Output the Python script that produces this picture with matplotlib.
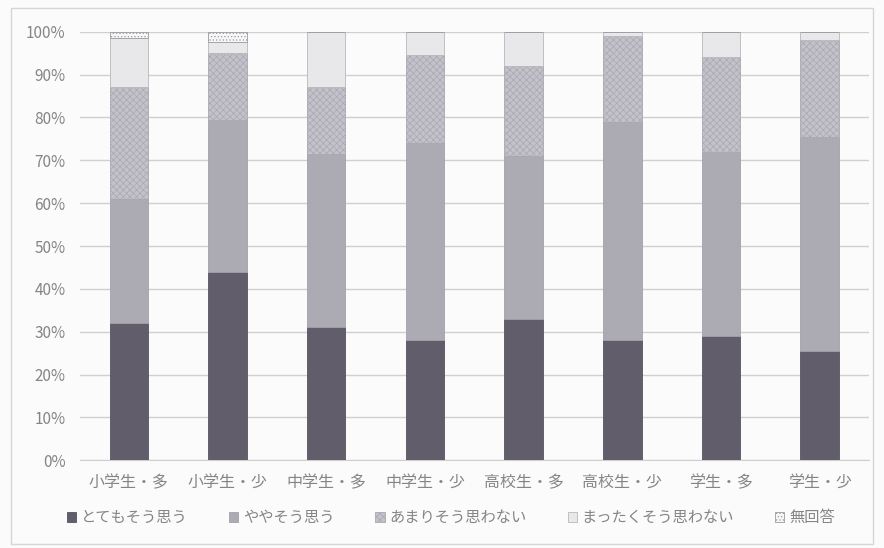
import matplotlib
matplotlib.use("Agg")
import matplotlib.pyplot as plt
import numpy as np
from matplotlib.patches import Rectangle

plt.rcParams['font.family'] = ['Noto Sans CJK JP', 'DejaVu Sans']
plt.rcParams['hatch.linewidth'] = 0.5

categories = ['小学生・多', '小学生・少', '中学生・多', '中学生・少',
              '高校生・多', '高校生・少', '学生・多', '学生・少']
series_names = ['とてもそう思う', 'ややそう思う', 'あまりそう思わない',
                'まったくそう思わない', '無回答']

very_much = [32, 44, 31, 28, 33, 28, 29, 25.5]
somewhat = [29, 35.5, 40.5, 46, 38, 51, 43, 50]
not_much = [26, 15.5, 15.5, 20.5, 21, 20, 22, 22.5]
not_at_all = [11.5, 2.5, 13, 5.5, 8, 1, 6, 2]
no_answer = [1.5, 2.5, 0, 0, 0, 0, 0, 0]

series = [very_much, somewhat, not_much, not_at_all, no_answer]
fills = ['#615d6b', '#acabb3', '#c3c2ca', '#e8e8ea', '#f7f7f7']
hatches = [None, None, 'xxxxx', None, '.....']
edges = ['#57545f', '#a2a1a9', '#a9a8b1', '#b8b8bc', '#9a9aa0']

fig = plt.figure(figsize=(8.84, 5.48), dpi=100, facecolor='#fbfbfb')
ax = fig.add_axes([0.09, 0.16, 0.893, 0.782])
ax.set_facecolor('#fbfbfb')

x = np.arange(len(categories))
bottom = np.zeros(len(categories))
for name, vals, fc, h, ec in zip(series_names, series, fills, hatches, edges):
    vals = np.array(vals, dtype=float)
    ax.bar(x, vals, width=0.39, bottom=bottom, color=fc, hatch=h,
           edgecolor=ec, linewidth=0.6, label=name, zorder=3)
    bottom += vals

ax.set_xlim(-0.5, len(categories) - 0.5)
ax.set_ylim(0, 100)
ax.set_yticks(np.arange(0, 101, 10))
ax.set_yticklabels([f'{v}%' for v in range(0, 101, 10)])
ax.set_xticks(x)
ax.set_xticklabels(categories)
ax.yaxis.grid(True, color='#cfcfcf', linewidth=1.0, zorder=0)
ax.tick_params(axis='both', length=0, colors='#858585', labelsize=11)
ax.tick_params(axis='x', labelsize=11.5, pad=10)
ax.tick_params(axis='y', pad=10)
for side in ['top', 'right', 'left']:
    ax.spines[side].set_visible(False)
ax.spines['bottom'].set_color('#cfcfcf')

leg = fig.legend(loc='center', bbox_to_anchor=(0.51, 0.055), ncol=5,
                 frameon=False, fontsize=11, handlelength=0.6,
                 handleheight=0.6, handletextpad=0.3, columnspacing=2.7)
for t in leg.get_texts():
    t.set_color('#858585')

fig.patches.append(Rectangle((0.012, 0.008), 0.976, 0.978,
                             transform=fig.transFigure, fill=False,
                             edgecolor='#d6d6d6', linewidth=1.0))

fig.savefig('out.png', dpi=100, facecolor=fig.get_facecolor())
